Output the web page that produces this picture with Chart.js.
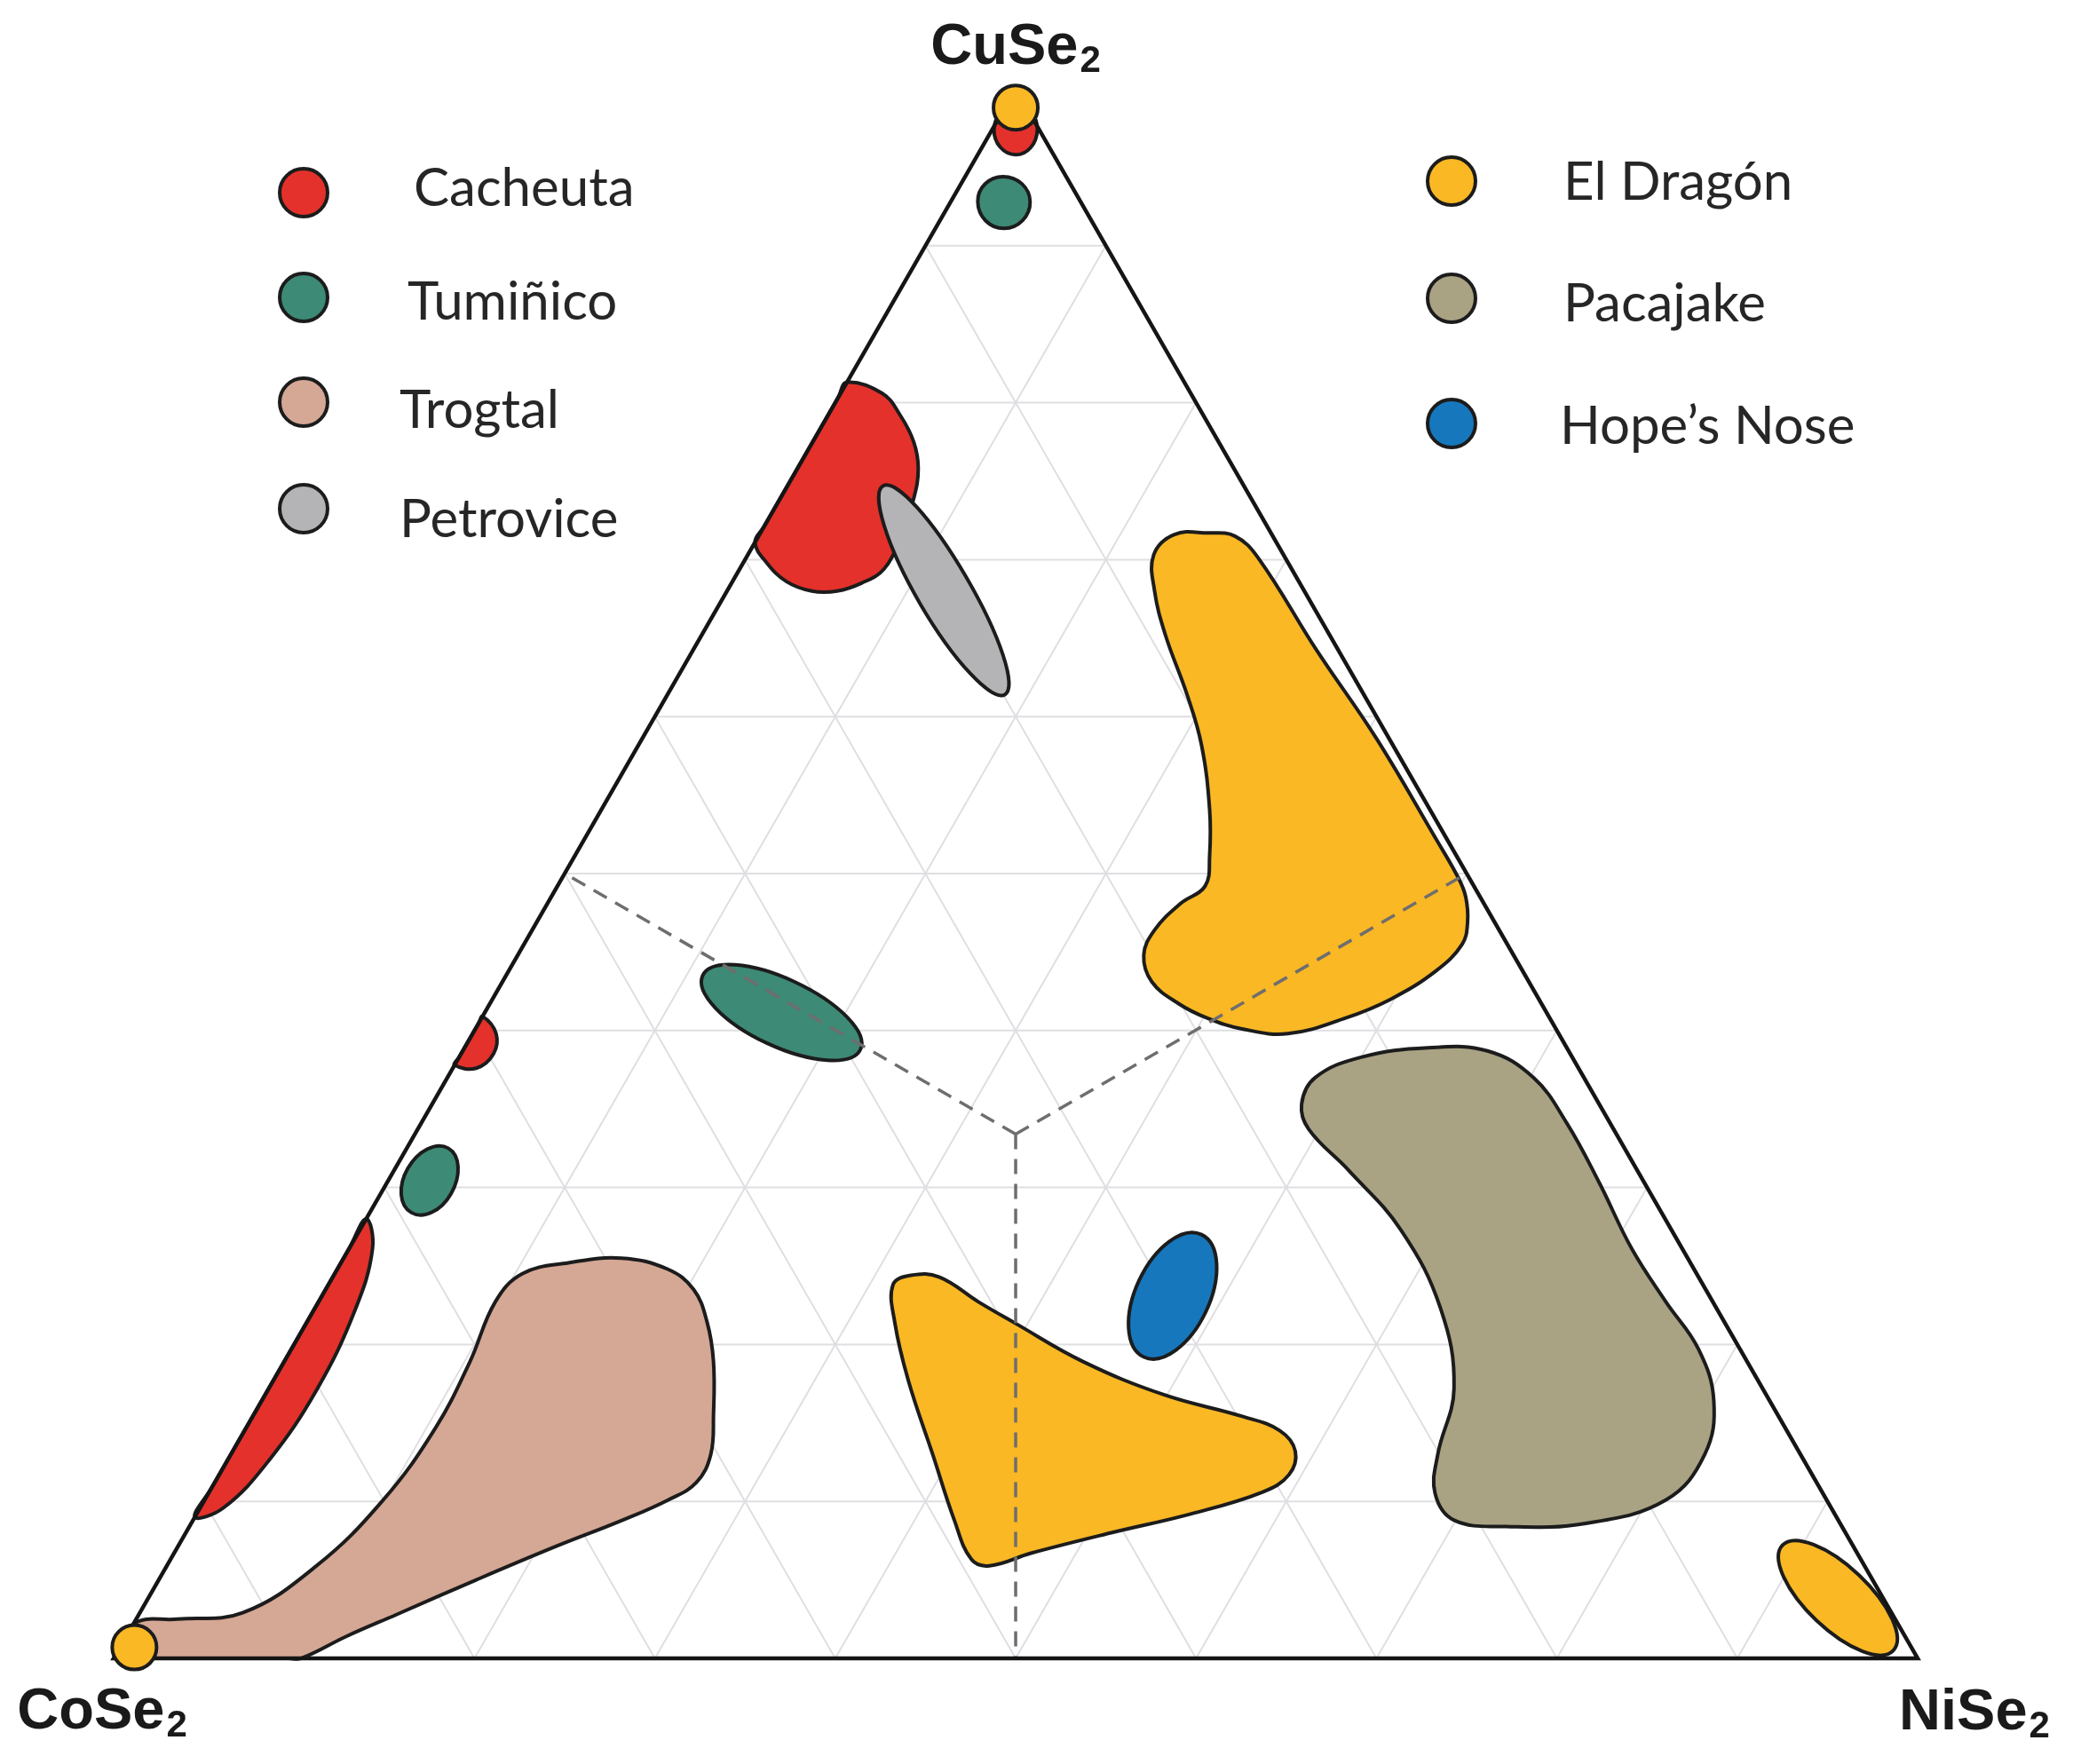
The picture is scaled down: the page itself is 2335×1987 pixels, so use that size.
<!DOCTYPE html>
<html lang="es">
<head>
<meta charset="utf-8">
<title>CoSe2 – NiSe2 – CuSe2 ternary diagram</title>
<script src="https://cdn.jsdelivr.net/npm/chart.js@4.4.1/dist/chart.umd.min.js"></script>
<style>
  html, body { margin: 0; padding: 0; background: #ffffff; }
  canvas { display: block; }
</style>
</head>
<body>
<canvas id="chart" width="2335" height="1987"></canvas>
<script>
// ================= DATA =================
// End-members (apices of the ternary diagram)
const endMembers = ['CoSe2', 'NiSe2', 'CuSe2'];
const endMemberFormula = [['CoSe', '2'], ['NiSe', '2'], ['CuSe', '2']];
const endMemberComp = [[100, 0, 0], [0, 100, 0], [0, 0, 100]];

// Localities (legend order)
const localities = ['Cacheuta', 'Tumiñico', 'Trogtal', 'Petrovice', 'El Dragón', 'Pacajake', 'Hope’s Nose'];
const localityColors = ['#e4312b', '#3d8a76', '#d5a795', '#b4b4b6', '#f9b824', '#a9a384', '#1677bd'];

// Grid tick values (mol %)
const gridTicks = [10, 20, 30, 40, 50, 60, 70, 80, 90];

// Divider lines: centroid to the mid-points of the three sides [CoSe2, NiSe2, CuSe2]
const centroid = [33.3, 33.3, 33.4];
const sideMidpoints = [[50, 0, 50], [0, 50, 50], [50, 50, 0]];

// Compositional fields, boundaries as [CoSe2, NiSe2, CuSe2] mol %
const trogtalField = [
  [97.8, 0, 2.2], [95.2, 2.3, 2.5], [91.4, 5.7, 2.9], [85.8, 8.3, 5.9], [80.0, 9.9, 10.1],
  [74.8, 10.5, 14.7], [70.8, 10.3, 18.9], [67.5, 9.8, 22.7], [65.1, 10.4, 24.5], [62.2, 12.6, 25.2],
  [59.1, 15.4, 25.5], [56.9, 18.3, 24.8], [56.1, 20.4, 23.5], [56.4, 22.2, 21.4], [57.3, 23.8, 18.9],
  [59.0, 25.5, 15.5], [60.4, 26.6, 13.0], [62.1, 26.7, 11.2], [64.2, 25.7, 10.1], [67.4, 23.8, 8.8],
  [72.0, 20.9, 7.1], [77.4, 17.6, 5.0], [82.9, 14.3, 2.8], [86.4, 12.2, 1.4], [89.6, 10.4, 0],
  [90.3, 9.7, 0], [98.4, 1.6, 0], [99.7, 0.3, 0]
];
const cacheutaLowerField = [
  [72.0, 0, 28.0], [72.6, 1.3, 26.1], [75.6, 2.3, 22.1], [80.2, 2.7, 17.1], [85.1, 2.3, 12.6],
  [89.1, 1.3, 9.6], [91.0, 0, 9.0], [89.1, 0, 10.9], [73.9, 0, 26.1]
];
const cacheutaSmallField = [
  [59.1, 0, 40.9], [58.9, 1.3, 39.8], [59.7, 1.8, 38.5], [61.1, 1.3, 37.6], [62.2, 0, 37.8],
  [61.7, 0, 38.3], [59.5, 0, 40.5]
];
const cacheutaUpperField = [
  [18.7, 0, 81.3], [17.1, 2.3, 80.6], [16.8, 4.0, 79.2], [16.9, 5.6, 77.5], [17.5, 6.7, 75.8],
  [18.7, 7.4, 73.9], [20.7, 7.9, 71.4], [22.6, 8.0, 69.4], [24.3, 7.2, 68.5], [25.9, 6.1, 68.0],
  [27.3, 4.7, 68.0], [28.4, 3.0, 68.6], [28.9, 1.3, 69.8], [28.9, 0, 71.1], [27.9, 0, 72.1],
  [19.7, 0, 80.3]
];
const cacheutaApexField = [[0.5, 0.6, 98.9], [0.1, 2.5, 97.4], [2.1, 2.1, 95.8], [2.5, 0.1, 97.4]];
const petroviceField = [[20.0, 5.3, 74.7], [18.3, 12.8, 68.9], [19.9, 18.7, 61.4], [21.7, 11.1, 67.2]];
const tuminicoApexField = [[3.5, 2.1, 94.4], [2.8, 4.4, 92.8], [5.1, 3.8, 91.1], [5.7, 1.5, 92.8]];
const tuminicoSmallField = [[65.2, 2.3, 32.5], [66.5, 3.9, 29.6], [69.3, 2.3, 28.4], [68.1, 0.7, 31.2]];
const tuminicoMidField = [[45.6, 10.9, 43.5], [40.7, 16.2, 43.1], [39.2, 22.0, 38.8], [44.2, 16.6, 39.2]];
const elDragonUpperField = [
  [7.2, 22.5, 70.3], [5.4, 23.0, 71.6], [3.5, 24.8, 71.7], [2.1, 26.4, 71.5], [1.5, 28.4, 70.1],
  [1.2, 34.6, 64.2], [0.7, 40.7, 58.6], [0.6, 47.1, 52.3], [0.6, 49.7, 49.7], [0.8, 50.7, 48.5],
  [1.5, 51.6, 46.9], [2.5, 52.0, 45.5], [4.8, 51.4, 43.8], [8.2, 49.8, 42.0], [11.3, 47.9, 40.8],
  [15.0, 45.2, 39.8], [17.4, 42.5, 40.1], [19.0, 40.2, 40.8], [20.1, 38.2, 41.7], [20.9, 36.0, 43.1],
  [20.5, 34.7, 44.8], [19.1, 34.5, 46.4], [16.8, 35.1, 48.1], [14.9, 35.9, 49.2], [13.7, 35.2, 51.1],
  [12.2, 33.7, 54.1], [10.6, 31.2, 58.2], [9.8, 28.8, 61.4], [9.1, 25.7, 65.2], [8.3, 23.7, 68.0]
];
const elDragonLowerField = [
  [44.9, 31.3, 23.8], [43.6, 32.0, 24.4], [42.1, 33.6, 24.3], [40.7, 36.6, 22.7], [39.4, 39.2, 21.4],
  [36.8, 44.3, 18.9], [33.4, 49.8, 16.8], [29.7, 54.9, 15.4], [28.1, 57.4, 14.5], [27.9, 58.9, 13.2],
  [29.0, 59.3, 11.7], [31.0, 58.4, 10.6], [35.7, 55.1, 9.2], [40.7, 51.3, 8.0], [45.8, 47.5, 6.7],
  [48.5, 45.6, 5.9], [49.3, 44.4, 6.3], [49.0, 42.2, 8.8], [48.1, 38.9, 13.0], [47.1, 35.2, 17.7],
  [46.0, 32.6, 21.4]
];
const elDragonNiField = [[3.9, 88.9, 7.2], [0.6, 94.1, 5.3], [1.1, 98.4, 0.5], [4.4, 93.2, 2.4]];
const pacajakeField = [
  [16.5, 48.2, 35.3], [14.9, 48.1, 37.0], [11.7, 50.0, 38.3], [7.7, 53.4, 38.9], [4.5, 56.8, 38.7],
  [2.8, 60.2, 37.0], [2.4, 63.5, 34.1], [2.5, 67.2, 30.3], [2.8, 71.1, 26.1], [2.6, 74.7, 22.7],
  [2.3, 78.0, 19.7], [3.1, 80.5, 16.4], [5.3, 81.7, 13.0], [8.9, 81.0, 10.1], [14.1, 77.3, 8.6],
  [18.6, 73.0, 8.4], [21.3, 69.9, 8.8], [21.5, 68.0, 10.5], [20.1, 66.9, 13.0], [17.1, 65.7, 17.2],
  [15.3, 62.4, 22.3], [15.0, 57.7, 27.3], [16.0, 52.9, 31.1], [16.9, 49.4, 33.7]
];
const hopesNoseField = [[26.2, 46.8, 27.0], [28.4, 49.5, 22.1], [33.3, 47.5, 19.2], [31.1, 44.8, 24.1]];
// El Dragón compositions plotted at the apices
const elDragonPoints = [[0.6, 0.6, 98.8], [98.5, 0.8, 0.7]];

// Drawing order of the fields (bottom to top)
const fieldLayers = [
  ['Trogtal', trogtalField],
  ['Cacheuta', cacheutaLowerField],
  ['Cacheuta', cacheutaSmallField],
  ['Cacheuta', cacheutaUpperField],
  ['Cacheuta', cacheutaApexField],
  ['Petrovice', petroviceField],
  ['Tumiñico', tuminicoApexField],
  ['Tumiñico', tuminicoSmallField],
  ['Tumiñico', tuminicoMidField],
  ['El Dragón', elDragonUpperField],
  ['El Dragón', elDragonLowerField],
  ['El Dragón', elDragonNiField],
  ['Pacajake', pacajakeField],
  ['Hope’s Nose', hopesNoseField]
];

// ================= BUILD =================
const SQRT3_2 = Math.sqrt(3) / 2;
function toXY(c) {
  const s = c[0] + c[1] + c[2];
  const ni = c[1] * 100 / s, cu = c[2] * 100 / s;
  return { x: ni + cu / 2, y: cu * SQRT3_2 };
}
const GAP = { x: null, y: null };
const OUTLINE = '#1c1c1c';
const colorOf = (name) => localityColors[localities.indexOf(name)];

const datasets = [];

// grid
const gridData = [];
gridTicks.forEach(t => {
  [
    [[100 - t, 0, t], [0, 100 - t, t]],
    [[100 - t, t, 0], [0, t, 100 - t]],
    [[t, 100 - t, 0], [t, 0, 100 - t]]
  ].forEach(([a, b]) => gridData.push(toXY(a), toXY(b), GAP));
});
datasets.push({
  label: 'grid', data: gridData, borderColor: '#dfdfe3', borderWidth: 2,
  pointRadius: 0, fill: false, tension: 0
});

// fields
fieldLayers.forEach(([name, comp]) => {
  datasets.push({
    label: name,
    data: comp.map(toXY),
    closedLoop: true,
    fill: 'shape',
    backgroundColor: colorOf(name),
    borderColor: OUTLINE,
    borderWidth: 4,
    borderJoinStyle: 'round',
    pointRadius: 0,
    tension: comp.length === 4 ? 0.5523 : 0.4
  });
});

// dashed dividers
const dividerData = [];
sideMidpoints.forEach(m => dividerData.push(toXY(centroid), toXY(m), GAP));
datasets.push({
  label: 'dividers', data: dividerData, borderColor: '#6e6e6e', borderWidth: 3.5,
  borderDash: [17, 11], pointRadius: 0, fill: false, tension: 0
});

// triangle frame
datasets.push({
  label: 'frame', data: endMemberComp.map(toXY), closedLoop: true, borderColor: '#151515',
  borderWidth: 4.5, borderJoinStyle: 'miter', pointRadius: 0, fill: false, tension: 0
});

// El Dragón points at the apices
datasets.push({
  label: 'El Dragón', data: elDragonPoints.map(toXY), showLine: false,
  pointRadius: 25, pointBorderWidth: 4, pointBackgroundColor: colorOf('El Dragón'),
  pointBorderColor: OUTLINE, pointHoverRadius: 25
});

datasets.forEach((d, i) => { d.order = datasets.length - i; });

// ================= PLUGINS =================
const closedLoopPlugin = {
  id: 'closedLoop',
  afterDatasetUpdate(chart, args) {
    const ds = chart.data.datasets[args.index];
    const line = args.meta && args.meta.dataset;
    if (ds.closedLoop && line) { line._loop = true; line._fullLoop = true; }
  }
};

const textPlugin = {
  id: 'ternaryText',
  afterDraw(chart, args, opts) {
    const ctx = chart.ctx;
    const xs = chart.scales.x, ys = chart.scales.y;
    ctx.save();
    // apex labels
    endMemberFormula.forEach((f, i) => {
      const p = toXY(endMemberComp[i]);
      const px = xs.getPixelForValue(p.x), py = ys.getPixelForValue(p.y);
      const off = opts.vertexOffsets[i];
      const mainFont = 'bold 65px "Liberation Sans", Arial, sans-serif';
      const subFont = 'bold 42px "Liberation Sans", Arial, sans-serif';
      ctx.font = mainFont; const w1 = ctx.measureText(f[0]).width;
      ctx.font = subFont; const w2 = ctx.measureText(f[1]).width;
      const x0 = px + off[0] - (w1 + 2 + w2) / 2;
      const base = py + off[1];
      ctx.fillStyle = '#1a1a1a';
      ctx.textBaseline = 'alphabetic'; ctx.textAlign = 'left';
      ctx.font = mainFont; ctx.fillText(f[0], x0, base);
      ctx.font = subFont; ctx.fillText(f[1], x0 + w1 + 2, base + 9);
    });
    // legend
    const L = opts.legend;
    localities.forEach((name, i) => {
      ctx.beginPath();
      ctx.arc(L.markerX[i], L.markerY[i], 27, 0, Math.PI * 2);
      ctx.fillStyle = localityColors[i];
      ctx.fill();
      ctx.lineWidth = 4; ctx.strokeStyle = OUTLINE; ctx.stroke();
      ctx.font = '60px Lato, "Open Sans", sans-serif';
      ctx.fillStyle = '#262626';
      ctx.textAlign = 'left'; ctx.textBaseline = 'alphabetic';
      ctx.fillText(name, L.textX[i], L.textBaseline[i]);
    });
    ctx.restore();
  }
};

// ================= CHART =================
new Chart(document.getElementById('chart'), {
  type: 'line',
  data: { datasets },
  plugins: [closedLoopPlugin, textPlugin],
  options: {
    responsive: false,
    maintainAspectRatio: false,
    devicePixelRatio: 1,
    animation: false,
    events: [],
    layout: { padding: 0, autoPadding: false },
    scales: {
      x: { type: 'linear', display: false, min: -6.30, max: 108.61 },
      y: { type: 'linear', display: false, min: -5.83, max: 91.50 }
    },
    elements: { point: { radius: 0, hoverRadius: 0 } },
    plugins: {
      legend: { display: false },
      tooltip: { enabled: false },
      title: { display: false },
      ternaryText: {
        vertexOffsets: [[-13, 79], [64, 80], [0, -28]],
        legend: {
          markerX: [342, 342, 342, 342, 1635, 1635, 1635],
          markerY: [217, 335, 453, 573, 204, 336, 477],
          textX: [466, 459, 450, 450, 1761, 1761, 1757],
          textBaseline: [232, 360, 482, 605, 225, 362, 500]
        }
      }
    }
  }
});
</script>
</body>
</html>
